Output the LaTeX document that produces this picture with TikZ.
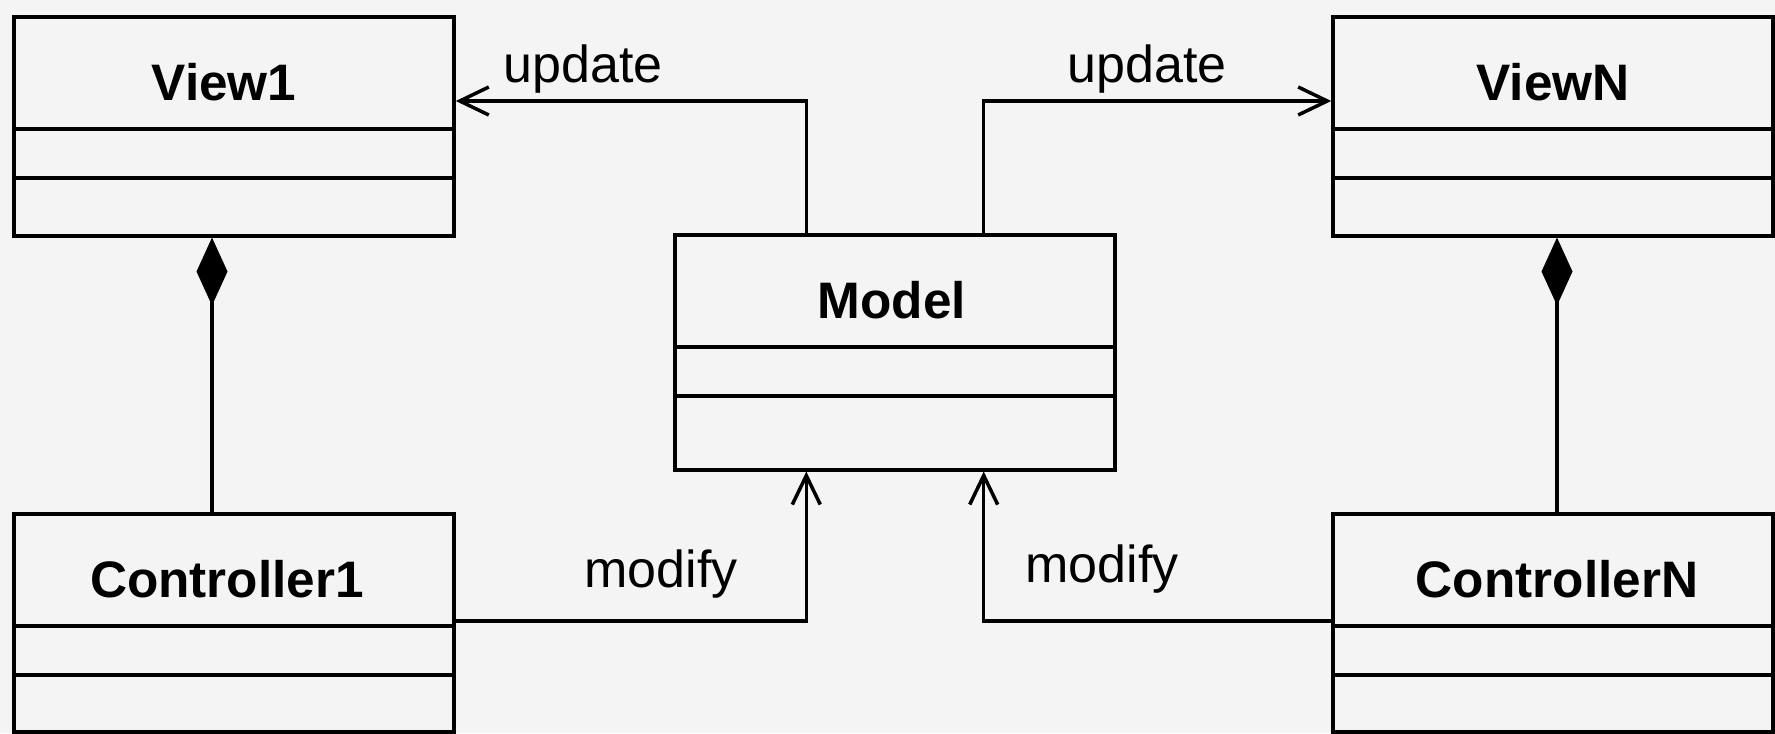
\documentclass[tikz,border=0pt]{standalone}
\usepackage{fontspec}
\setmainfont{Liberation Sans}
\usetikzlibrary{arrows.meta,calc}

\definecolor{paper}{gray}{0.955}

\tikzset{
    umlclass/.style={draw, line width=1pt, minimum width=4.4cm, inner sep=0pt, anchor=north},
    classname/.style={font=\fontsize{14.6}{17}\selectfont\bfseries, anchor=base},
    msg/.style={font=\fontsize{14.8}{17}\selectfont, anchor=base},
    assoc/.style={line width=1pt, -{Straight Barb[length=0.29cm, width=0.28cm]}},
    compose/.style={line width=1pt, {Diamond[length=0.68cm, width=0.31cm]}-}
}

\begin{document}
\begin{tikzpicture}
    \fill[paper] (0,0) rectangle (17.75,-7.33);
    \useasboundingbox (0,0) rectangle (17.75,-7.33);

    \node[umlclass, minimum height=2.19cm] (view1) at (2.34,-0.15) {};
    \node[umlclass, minimum height=2.19cm] (viewN) at (15.53,-0.15) {};
    \node[umlclass, minimum height=2.35cm] (model) at (8.95,-2.33) {};
    \node[umlclass, minimum height=2.18cm] (ctrl1) at (2.34,-5.12) {};
    \node[umlclass, minimum height=2.18cm] (ctrlN) at (15.53,-5.12) {};

    \foreach \c/\t/\dx in {view1/View1/-0.1, viewN/ViewN/0, model/Model/-0.03, ctrl1/Controller1/-0.07, ctrlN/ControllerN/0.04} {
        \node[classname] (\c-name) at ($(\c.north)+(\dx,-0.85)$) {\t};
        \draw[line width=1pt] ($(\c.north west)+(0,-1.14)$) -- ($(\c.north east)+(0,-1.14)$);
        \draw[line width=1pt] ($(\c.north west)+(0,-1.63)$) -- ($(\c.north east)+(0,-1.63)$);
    }

    \coordinate (mtl) at ($(model.north west)!0.3!(model.north east)$);
    \coordinate (mtr) at ($(model.north west)!0.7!(model.north east)$);
    \coordinate (mbl) at ($(model.south west)!0.3!(model.south east)$);
    \coordinate (mbr) at ($(model.south west)!0.7!(model.south east)$);
    \coordinate (view1in) at ($(view1.north east)+(0,-0.86)$);
    \coordinate (viewNin) at ($(viewN.north west)+(0,-0.86)$);
    \coordinate (ctrl1out) at ($(ctrl1.north east)+(0,-1.09)$);
    \coordinate (ctrlNout) at ($(ctrlN.north west)+(0,-1.09)$);

    \draw[assoc] (mtl) |- (view1in);
    \draw[assoc] (mtr) |- (viewNin);
    \draw[assoc] (ctrl1out) -| (mbl);
    \draw[assoc] (ctrlNout) -| (mbr);

    \node[msg] (upd1) at (5.83,-0.82) {update};
    \node[msg] (updN) at (11.47,-0.82) {update};
    \node[msg] (mod1) at (6.61,-5.87) {modify};
    \node[msg] (modN) at (11.02,-5.82) {modify};

    \draw[compose] ($(view1.south)+(-0.22,0)$) coordinate (c1) -- (c1 |- ctrl1.north);
    \draw[compose] ($(viewN.south)+(0.04,0)$) coordinate (cN) -- (cN |- ctrlN.north);
\end{tikzpicture}
\end{document}
